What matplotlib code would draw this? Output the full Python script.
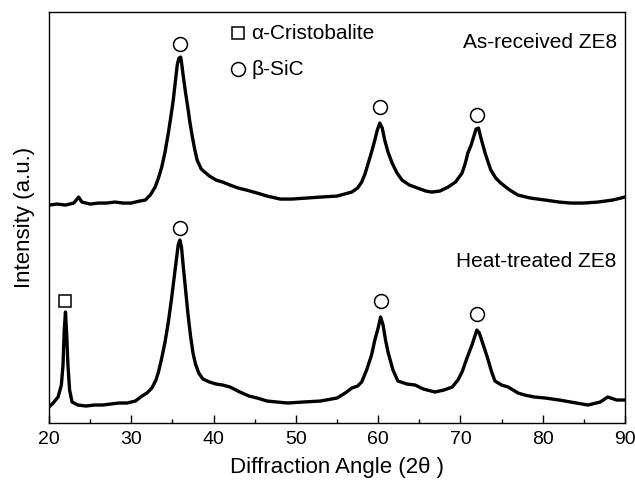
import matplotlib
matplotlib.use("Agg")
import matplotlib.pyplot as plt

plt.rcParams['font.family'] = ['Liberation Sans', 'DejaVu Sans']

# As-received ZE8 (upper trace), intensity in arbitrary units
two_theta_asrec = [20.0, 21.0, 22.0, 23.0, 23.6, 24.0, 25.0, 26.0, 27.0, 28.0, 29.0, 30.0,
                   31.0, 31.7, 32.3, 32.9, 33.3, 33.7, 34.1, 34.5, 34.8, 35.1, 35.4, 35.6,
                   35.8, 36.0, 36.1, 36.3, 36.6, 36.9, 37.1, 37.4, 37.7, 38.0, 38.5, 39.5,
                   40.3, 41.1, 42.0, 43.0, 44.0, 45.3, 46.5, 48.1, 49.5, 51.3, 53.0, 55.0,
                   56.8, 57.5, 58.0, 58.4, 58.8, 59.2, 59.6, 59.9, 60.2, 60.5, 60.8, 61.2,
                   61.7, 62.3, 62.9, 63.8, 64.8, 65.8, 66.5, 67.5, 68.5, 69.4, 70.2, 70.6,
                   70.9, 71.3, 71.6, 71.9, 72.2, 72.5, 73.0, 73.4, 73.7, 74.3, 74.9, 76.0,
                   77.0, 78.5, 80.3, 82.0, 83.4, 85.0, 86.7, 88.5, 90.0]
int_asrec = [218, 219, 218, 220, 226, 221, 219, 220, 220, 221, 220, 220,
             222, 223, 228, 236, 245, 256, 271, 290, 306, 323, 345, 359,
             365, 366, 361, 348, 330, 314, 302, 287, 274, 263, 254, 247,
             243, 241, 238, 235, 233, 230, 227, 224, 224, 225, 226, 227,
             231, 235, 241, 249, 260, 271, 283, 293, 300, 295, 283, 271,
             260, 250, 243, 238, 235, 232, 231, 232, 236, 241, 250, 260,
             270, 278, 286, 294, 295, 285, 270, 260, 253, 245, 240, 233,
             228, 225, 223, 221, 220, 220, 221, 223, 226]

# Heat-treated ZE8 (lower trace)
two_theta_heat = [20.0, 20.5, 21.1, 21.5, 21.7, 21.85, 22.0, 22.15, 22.3, 22.5, 22.8, 23.5,
                  24.5, 25.5, 26.5, 27.5, 28.5, 29.5, 30.5, 31.3, 31.9, 32.5, 33.0, 33.3,
                  33.7, 34.1, 34.5, 34.9, 35.2, 35.5, 35.7, 35.9, 36.1, 36.3, 36.6, 36.9,
                  37.2, 37.5, 37.8, 38.2, 38.7, 39.5, 40.3, 41.1, 42.0, 43.2, 44.3, 45.3,
                  46.5, 47.7, 49.0, 50.9, 53.0, 55.0, 56.0, 56.8, 57.5, 58.0, 58.6, 59.2,
                  59.6, 60.0, 60.3, 60.6, 60.9, 61.2, 61.8, 62.4, 63.5, 64.5, 65.5, 66.9,
                  68.0, 69.0, 69.7, 70.2, 70.8, 71.4, 71.8, 72.0, 72.3, 72.7, 73.3, 73.8,
                  74.2, 75.0, 75.8, 77.0, 77.8, 79.0, 80.3, 82.0, 83.4, 85.5, 87.0, 87.9,
                  89.0, 90.0]
int_heat = [16, 20, 26, 38, 58, 93, 111, 88, 58, 33, 21, 18,
            17, 18, 18, 19, 20, 20, 22, 27, 30, 35, 43, 51,
            65, 81, 101, 125, 145, 165, 178, 183, 176, 158, 133, 108,
            87, 70, 59, 50, 44, 41, 39, 38, 36, 31, 27, 25,
            22, 21, 20, 21, 22, 25, 30, 35, 37, 41, 53, 68,
            83, 95, 106, 98, 83, 71, 53, 42, 39, 38, 34, 31,
            33, 36, 43, 51, 65, 78, 88, 93, 90, 80, 65, 51,
            42, 38, 36, 30, 28, 26, 25, 23, 21, 18, 21, 26,
            23, 23]

# phase markers above the peaks
sic_x = [35.9, 60.2, 72.0, 35.9, 60.4, 72.0]
sic_y = [379, 316, 308, 195, 122, 109]
crist_x = [22.0]
crist_y = [122]

fig = plt.figure(figsize=(6.35, 4.84), dpi=100)
ax = fig.add_axes([0.0772, 0.126, 0.907, 0.849])

ax.plot(two_theta_asrec, int_asrec, color='black', lw=2.4)
ax.plot(two_theta_heat, int_heat, color='black', lw=2.4)

ax.plot(sic_x, sic_y, 'o', ms=10, mfc='white', mec='black', mew=1.1, ls='none')
ax.plot(crist_x, crist_y, 's', ms=9, mfc='white', mec='black', mew=1.1, ls='none')

# legend-like key
ax.plot([43.0], [390], 's', ms=9, mfc='white', mec='black', mew=1.1)
ax.plot([43.0], [354], 'o', ms=10, mfc='white', mec='black', mew=1.1)
ax.text(44.6, 390, 'α-Cristobalite', fontsize=15, va='center', ha='left')
ax.text(44.6, 354, 'β-SiC', fontsize=15, va='center', ha='left')

ax.text(89.0, 381, 'As-received ZE8', fontsize=15, va='center', ha='right')
ax.text(89.0, 162, 'Heat-treated ZE8', fontsize=15, va='center', ha='right')

ax.set_xlim(20, 90)
ax.set_ylim(0, 411)
ax.set_xticks(range(20, 91, 10))
ax.set_xticks(range(25, 90, 10), minor=True)
ax.set_yticks([])
ax.tick_params(axis='x', which='major', direction='in', length=6, width=1, labelsize=14, pad=6)
ax.tick_params(axis='x', which='minor', direction='in', length=3, width=1)
for s in ax.spines.values():
    s.set_linewidth(1.0)

ax.set_xlabel('Diffraction Angle (2θ )', fontsize=16, labelpad=6)
ax.set_ylabel('Intensity (a.u.)', fontsize=16, labelpad=10)

fig.savefig('out.png', dpi=100)
